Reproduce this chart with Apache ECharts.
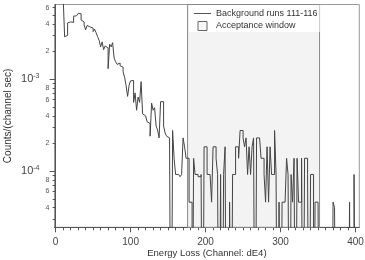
<!DOCTYPE html>
<html>
<head>
<meta charset="utf-8">
<script src="https://cdn.jsdelivr.net/npm/echarts@6/dist/echarts.min.js"></script>
<style>
  html, body { margin: 0; padding: 0; background: #fff; }
  #chart { width: 365px; height: 260px; }
</style>
</head>
<body>
<div id="chart"></div>
<script>
  // histogram, 2 channels per bin, first bin starts at channel 0
  const binWidth = 2;
  // counts/(channel sec) per bin, 0 = empty bin
  const rate = [
    0.05, 0.03, 0.02, 0.015, 0.011, 0.008, 2.9e-3, 3.0e-3, 4.1e-3, 4.2e-3,          // 0-18
    4.2e-3, 4.15e-3, 4.85e-3, 4.9e-3, 5.1e-3, 5.2e-3, 5.15e-3, 4.4e-3, 4.2e-3, 3.9e-3, // 20-38
    3.45e-3, 3.85e-3, 3.7e-3, 3.75e-3, 3.6e-3, 3.3e-3, 3.5e-3, 3.2e-3, 2.9e-3, 2.65e-3, // 40-58
    2.25e-3, 2.55e-3, 2.1e-3, 2.3e-3, 2.2e-3, 1.3e-3, 2.4e-3, 2.25e-3, 2.5e-3, 1.7e-3,  // 60-78
    1.55e-3, 1.45e-3, 1.5e-3, 1.4e-3, 1.35e-3, 1.2e-3, 1.05e-3, 8.5e-4, 6.5e-4, 8.6e-4, // 80-98
    9.6e-4, 9.7e-4, 5.6e-4, 7.1e-4, 4.6e-4, 6.4e-4, 5.6e-4, 9.4e-4, 4.2e-4, 4.0e-4,     // 100-118
    3.95e-4, 3.45e-4, 3.3e-4, 2.4e-4, 5.5e-4, 4.6e-4, 4.9e-4, 3.1e-4, 2.8e-4, 2.3e-4,   // 120-138
    5.7e-4, 5.7e-4, 3.1e-4, 2.6e-4, 2.4e-4, 2.3e-4, 1.7e-4, 0, 2.77e-4, 1.38e-4,        // 140-158
    9.2e-5, 9.2e-5, 9.2e-5, 8.7e-5, 9.2e-5, 2.3e-4, 1.84e-4, 1.38e-4, 1.38e-4, 4.6e-5,  // 160-178
    4.6e-5, 0, 1.38e-4, 9.2e-5, 9.2e-5, 8.7e-5, 8.7e-5, 9.2e-5, 0, 1.84e-4,             // 180-198
    1.84e-4, 9.2e-5, 9.2e-5, 9.2e-5, 4.6e-5, 1.84e-4, 1.84e-4, 1.38e-4, 9.2e-5, 0,      // 200-218
    9.2e-5, 0, 9.2e-5, 1.84e-4, 0, 0, 4.6e-5, 0, 9.2e-5, 9.2e-5,                        // 220-238
    1.84e-4, 1.84e-4, 1.38e-4, 2.77e-4, 2.77e-4, 2.3e-4, 1.84e-4, 2.3e-4, 9.2e-5, 1.84e-4, // 240-258
    9.2e-5, 1.84e-4, 2.3e-4, 0, 2.3e-4, 2.3e-4, 2.3e-4, 1.38e-4, 1.38e-4, 9.2e-5,       // 260-278
    4.6e-5, 1.84e-4, 4.6e-5, 1.84e-4, 9.2e-5, 9.2e-5, 2.77e-4, 9.2e-5, 0, 4.6e-5,       // 280-298
    0, 4.6e-5, 4.6e-5, 4.6e-5, 1.38e-4, 9.2e-5, 0, 9.2e-5, 4.6e-5, 1.38e-4,             // 300-318
    0, 1.38e-4, 4.6e-5, 4.6e-5, 1.38e-4, 0, 1.38e-4, 1.38e-4, 9.2e-5, 0,                // 320-338
    9.2e-5, 9.2e-5, 0, 4.6e-5, 4.6e-5, 4.6e-5, 0, 0, 0, 0,                              // 340-358
    0, 0, 0, 0, 0, 4.6e-5, 4.0e-5, 0, 0, 0,                                             // 360-378
    0, 0, 0, 0, 0, 0, 4.6e-5, 0, 0, 9.2e-5,                                             // 380-398
    0, 0                                                                                // 400-402
  ];

  const windowRange = [176, 352];

  const xMajorTicks = [0, 100, 200, 300, 400];
  const xMinorTicks = [0, 10, 20, 30, 40, 50, 60, 70, 80, 90, 100, 110, 120, 130, 140, 150, 160, 170, 180, 190,
    200, 210, 220, 230, 240, 250, 260, 270, 280, 290, 300, 310, 320, 330, 340, 350, 360, 370, 380, 390, 400];

  const yDecades = [1e-4, 1e-3];
  const yDecadeText = ['{a|10}{b|-4}', '{a|10}{b|-3}'];
  const yMinorTicks = [3e-5, 4e-5, 5e-5, 6e-5, 7e-5, 8e-5, 9e-5,
    2e-4, 3e-4, 4e-4, 5e-4, 6e-4, 7e-4, 8e-4, 9e-4,
    2e-3, 3e-3, 4e-3, 5e-3, 6e-3];
  const yLabelTicks = [4e-5, 6e-5, 8e-5, 2e-4, 4e-4, 6e-4, 8e-4, 2e-3, 4e-3, 6e-3];
  const yLabelText = ['4', '6', '8', '2', '4', '6', '8', '2', '4', '6'];

  const FONT = 'Liberation Sans, Arial, sans-serif';
  // empty bins drop below the log axis floor
  const FLOOR = 1e-7;

  const histData = rate.map((v, i) => [i * binWidth, v > 0 ? v : FLOOR]);
  histData.push([rate.length * binWidth, FLOOR]);

  const chart = echarts.init(document.getElementById('chart'), null, { renderer: 'canvas' });

  const option = {
    animation: false,
    backgroundColor: '#fff',
    grid: {
      left: 54.5, right: 5.7, top: 4.5, bottom: 32.7,
      containLabel: false, outerBoundsMode: 'none',
      show: true, borderColor: '#999', borderWidth: 1, backgroundColor: 'transparent'
    },
    legend: {
      orient: 'vertical', left: 189, top: 5,
      backgroundColor: '#fff', padding: [4, 2, 1, 5],
      itemWidth: 17, itemHeight: 9, itemGap: 3,
      textStyle: { fontSize: 9, color: '#333', fontFamily: FONT },
      selectedMode: false,
      data: [
        { name: 'Background runs 111-116', icon: 'path://M0,0H17V1H0Z', itemStyle: { color: '#555' } },
        { name: 'Acceptance window', icon: 'path://M0,0H10V10H0Z',
          itemStyle: { color: '#f8f8f8', borderColor: '#666', borderWidth: 1 } }
      ]
    },
    xAxis: [
      {
        type: 'value', min: -1.5, max: 405,
        name: 'Energy Loss (Channel: dE4)', nameLocation: 'middle', nameGap: 21, nameMoveOverlap: false,
        nameTextStyle: { fontSize: 9.5, color: '#333', fontFamily: FONT },
        axisLine: { show: true, lineStyle: { color: '#555', width: 1 } },
        axisTick: { show: true, customValues: xMinorTicks, length: 3, lineStyle: { color: '#555' } },
        axisLabel: { customValues: xMajorTicks, fontSize: 10, color: '#444', margin: 10, fontFamily: FONT },
        splitLine: { show: false }
      },
      {
        type: 'value', min: -1.5, max: 405, position: 'bottom',
        axisLine: { show: false },
        axisTick: { show: true, customValues: xMajorTicks, length: 5, lineStyle: { color: '#555' } },
        axisLabel: { show: false },
        splitLine: { show: false }
      }
    ],
    yAxis: [
      {
        type: 'log', logBase: 10, min: 2.45e-5, max: 6.5e-3, position: 'left',
        name: 'Counts/(channel sec)', nameLocation: 'middle', nameGap: 41, nameRotate: 90, nameMoveOverlap: false,
        nameTextStyle: { fontSize: 10, color: '#333', fontFamily: FONT },
        axisLine: { show: true, lineStyle: { color: '#555', width: 1 } },
        axisTick: { show: true, customValues: yMinorTicks, length: 3, lineStyle: { color: '#555' } },
        axisLabel: {
          customValues: yLabelTicks, fontSize: 7, color: '#555', margin: 5, fontFamily: FONT,
          formatter: v => {
            const i = yLabelTicks.findIndex(t => Math.abs(t - v) / t < 1e-6);
            return i >= 0 ? yLabelText[i] : '';
          }
        },
        splitLine: { show: false }
      },
      {
        type: 'log', logBase: 10, min: 2.45e-5, max: 6.5e-3, position: 'left', offset: 0,
        axisLine: { show: false },
        axisTick: { show: true, customValues: yDecades, length: 6, lineStyle: { color: '#555' } },
        axisLabel: {
          customValues: yDecades, margin: 15, fontFamily: FONT,
          formatter: v => {
            const i = yDecades.findIndex(t => Math.abs(t - v) / t < 1e-6);
            return i >= 0 ? yDecadeText[i] : '';
          },
          rich: {
            a: { fontSize: 11, color: '#444', fontFamily: FONT },
            b: { fontSize: 7, color: '#444', fontFamily: FONT, padding: [0, 0, 7, 0] }
          }
        },
        splitLine: { show: false }
      }
    ],
    series: [
      {
        name: 'Acceptance window', type: 'line', data: [], symbol: 'none', z: 1,
        itemStyle: { color: '#f4f4f4', borderColor: '#666' },
        markArea: {
          silent: true,
          itemStyle: { color: '#f3f3f3', borderColor: '#888', borderWidth: 1 },
          data: [[{ xAxis: windowRange[0] }, { xAxis: windowRange[1] }]]
        }
      },
      {
        name: 'Background runs 111-116', type: 'line', step: 'end', symbol: 'none',
        data: histData, z: 3, clip: true,
        lineStyle: { color: '#444', width: 1 },
        itemStyle: { color: '#444' }
      }
    ]
  };

  chart.setOption(option);
  window.addEventListener('resize', function () {
    chart.resize();
  });
</script>
</body>
</html>
